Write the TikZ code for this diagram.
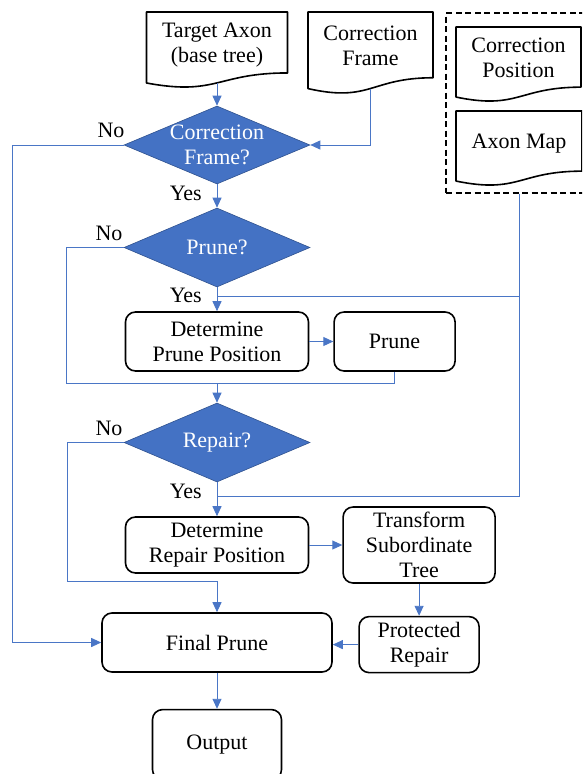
\documentclass[tikz,border=0pt]{standalone}
\usepackage{fontspec}
\setmainfont{Liberation Serif}
\usetikzlibrary{shapes.geometric,arrows.meta,positioning,calc}

\definecolor{wordblue}{HTML}{4472C4}
\definecolor{wordedge}{HTML}{2F528F}
\definecolor{linkblue}{HTML}{4A76C6}

% outline of a document symbol laid over a bare rectangle node,
% plus a coordinate <name>-b in the middle of its wavy bottom
\newcommand\docoutline[1]{%
  \draw[docline] (#1.north west) -- (#1.north east)
    -- ($(#1.north east)!0.802!(#1.south east)$)
    .. controls ($(#1.north)!0.802!(#1.south)$) and ($(#1.north)!1.107!(#1.south)$)
    .. ($(#1.north west)!0.934!(#1.south west)$) -- cycle;
  \coordinate (#1-b) at ($(#1.north)!0.933!(#1.south)$);}

\begin{document}
\begin{tikzpicture}[
    x=1pt, y=-1pt,
    font=\fontsize{22pt}{25pt}\selectfont,
    doc/.style={rectangle, outer sep=0pt, inner sep=0pt, align=center, text depth=14pt},
    docline/.style={draw=black, line width=1.6pt, line join=round},
    inbox/.style={rectangle, draw=black, dashed, dash pattern=on 6pt off 3.5pt, line width=1.4pt,
        minimum width=160pt, minimum height=180pt},
    decision/.style={diamond, shape aspect=2.4, fill=wordblue, draw=wordedge, line width=0.6pt,
        text=white, align=center, inner sep=-8pt, minimum width=186pt, minimum height=78pt},
    proc/.style={rectangle, rounded corners=10pt, draw=black, line width=1.6pt, align=center,
        inner sep=2pt, minimum height=59pt},
    link/.style={draw=linkblue, line width=0.9pt},
    arr/.style={link, -{Triangle[length=10pt,width=9pt]}},
    yesno/.style={inner sep=0pt}
]
    \useasboundingbox (0,0) rectangle (582,774);
    \clip (0,0) rectangle (582,774);

    % Inputs
    \node[inbox] (inputs) at (526,103) {};
    \node[doc, minimum width=141pt, minimum height=76pt] (tgt) at (217,50) {Target Axon\\(base tree)};
    \node[doc, minimum width=125pt, minimum height=82pt] (cfrm) at (370.5,53) {Correction\\Frame};
    \node[doc, minimum width=125pt, minimum height=75pt] (cpos) at (518.5,64.5) {Correction\\Position};
    \node[doc, minimum width=126pt, minimum height=75pt] (amap) at (519,148.5) {Axon Map};
    \docoutline{tgt}
    \docoutline{cfrm}
    \docoutline{cpos}
    \docoutline{amap}

    % Checks
    \node[decision] (q1) at (217,145) {Correction\\Frame?};
    \node[decision, minimum height=79pt] (q2) at (217,247.5) {Prune?};
    \node[decision, minimum height=79pt] (q3) at (217,442.5) {Repair?};

    % Steps
    \node[proc, minimum width=183pt] (pdet) at (217,341.5) {Determine\\Prune Position};
    \node[proc, minimum width=121pt, right=24pt of pdet] (prun) {Prune};
    \node[proc, minimum width=183pt, minimum height=56pt] (rdet) at (217,545) {Determine\\Repair Position};
    \node[proc, minimum width=152pt, minimum height=76pt, right=33pt of rdet] (trans) {Transform\\Subordinate\\Tree};
    \node[proc, minimum width=120pt, minimum height=56pt, below=32pt of trans] (prot) {Protected\\Repair};
    \node[proc, minimum width=230pt] (fin) at (217,642.5) {Final Prune};
    \node[proc, minimum width=129pt, minimum height=70pt, below=36pt of fin] (out) {Output};

    % Branch labels
    \node[yesno, above left=7pt and -1pt of q1.west] (no1) {No};
    \node[yesno, above left=7pt and 1pt of q2.west] (no2) {No};
    \node[yesno, above left=7pt and 1pt of q3.west] (no3) {No};
    \node[yesno, below left=2pt and 15pt of q1.south] (yes1) {Yes};
    \node[yesno, below left=1pt and 15pt of q2.south] (yes2) {Yes};
    \node[yesno, below left=2pt and 15pt of q3.south] (yes3) {Yes};

    % Flow
    \draw[arr] (tgt-b) -- (q1.north);
    \draw[arr] (cfrm-b) |- (q1.east);
    \draw[arr] (q1.west) -- ++(-111,0) |- (fin.west);
    \draw[arr] (q1) -- (q2);
    \draw[arr] (q2) -- (pdet);
    \draw[arr] (pdet) -- (prun);

    \coordinate (m1) at (217,383);
    \draw[link] (q2.west) -- ++(-57,0) |- (m1);
    \draw[link] (prun.south) |- (m1);
    \draw[arr] (m1) -- (q3.north);

    \draw[arr] (q3) -- (rdet);
    \draw[arr] (rdet) -- (trans);
    \draw[arr] (trans) -- (prot);
    \draw[arr] (prot.west) -- (prot.west -| fin.east);

    \coordinate (m2) at (217,581);
    \draw[arr] (q3.west) -- ++(-56,0) |- (m2) -- (fin.north);
    \draw[arr] (fin) -- (out);

    % map and position feed both position steps
    \coordinate (j1) at (217,296);
    \coordinate (j2) at (217,496);
    \draw[link] (inputs.south -| amap.center) |- (j2);
    \draw[link] (j1 -| amap.center) -- (j1);
\end{tikzpicture}
\end{document}
